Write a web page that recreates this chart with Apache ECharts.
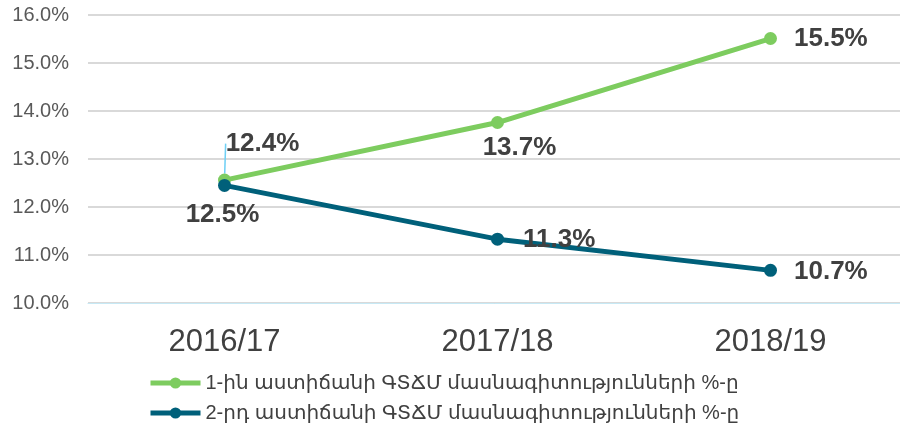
<!DOCTYPE html>
<html>
<head>
<meta charset="utf-8">
<script src="https://cdn.jsdelivr.net/npm/echarts@6/dist/echarts.min.js"></script>
<style>
  html, body { margin: 0; padding: 0; background: #fff; }
  #chart { width: 900px; height: 427px; }
</style>
</head>
<body>
<div id="chart"></div>
<script>
const years = ["2016/17", "2017/18", "2018/19"];
const firstName = "1-ին աստիճանի ԳՏՃՄ մասնագիտությունների %-ը";
const secondName = "2-րդ աստիճանի ԳՏՃՄ մասնագիտությունների %-ը";
const firstValues = [12.56, 13.76, 15.51];
const secondValues = [12.45, 11.33, 10.68];
// labels as printed in the source (first pair is swapped there)
const firstLabels = ["12.4%", "13.7%", "15.5%"];
const secondLabels = ["12.5%", "11.3%", "10.7%"];

const font = "Arial, 'Liberation Sans', 'DejaVu Sans', sans-serif";
const green = "#7dcc5f";
const teal = "#00607a";

// label side and nudge [dx, dy] for each point
const firstLabelPos = ["top", "bottom", "right"];
const firstNudge = [[38, 5], [22, -16], [-5, 0]];
const secondLabelPos = ["bottom", "right", "right"];
const secondNudge = [[-2, -12], [-3, 1], [-5, 1]];

const chart = echarts.init(document.getElementById("chart"));

const labelStyle = {
  show: true,
  fontFamily: font,
  fontSize: 26,
  fontWeight: "bold",
  color: "#404040",
  distance: 22
};

const makeData = (values, labels, pos) =>
  values.map((v, i) => ({
    value: v,
    label: { formatter: labels[i], position: pos[i] }
  }));

const firstData = makeData(firstValues, firstLabels, firstLabelPos);
firstData[0].labelLine = {
  show: true,
  lineStyle: { color: "#6fd0f5", width: 1.5 }
};

const nudge = (list) => (params) => {
  const d = list[params.dataIndex] || [0, 0];
  return { dx: d[0], dy: d[1] };
};

const legendBase = {
  orient: "vertical",
  left: 143,
  itemWidth: 50,
  itemHeight: 14,
  lineStyle: { width: 5 },
  textStyle: { fontFamily: font, fontSize: 20, color: "#404040" }
};

chart.setOption({
  animation: false,
  textStyle: { fontFamily: font },
  grid: { left: 88, right: -7, top: 15, bottom: 124, outerBoundsMode: "none" },
  legend: [
    Object.assign({ top: 368, data: [firstName] }, legendBase),
    Object.assign({ top: 398, data: [secondName] }, legendBase)
  ],
  xAxis: {
    type: "category",
    data: years,
    axisLine: { show: true, lineStyle: { color: "#c7e9f5", width: 1 } },
    axisTick: { show: false },
    axisLabel: { fontSize: 31, color: "#404040", margin: 24 }
  },
  yAxis: {
    type: "value",
    min: 10,
    max: 16,
    interval: 1,
    axisLine: { show: false },
    axisTick: { show: false },
    axisLabel: {
      fontSize: 20,
      color: "#595959",
      margin: 19,
      formatter: (v) => v.toFixed(1) + "%"
    },
    splitLine: { lineStyle: { color: "#d9d9d9", width: 2 } }
  },
  series: [
    {
      name: firstName,
      type: "line",
      data: firstData,
      symbol: "circle",
      symbolSize: 13,
      itemStyle: { color: green },
      lineStyle: { color: green, width: 5 },
      label: labelStyle,
      labelLayout: nudge(firstNudge),
      z: 2
    },
    {
      name: secondName,
      type: "line",
      data: makeData(secondValues, secondLabels, secondLabelPos),
      symbol: "circle",
      symbolSize: 13,
      itemStyle: { color: teal },
      lineStyle: { color: teal, width: 5 },
      label: labelStyle,
      labelLayout: nudge(secondNudge),
      z: 3
    }
  ]
});
</script>
</body>
</html>
